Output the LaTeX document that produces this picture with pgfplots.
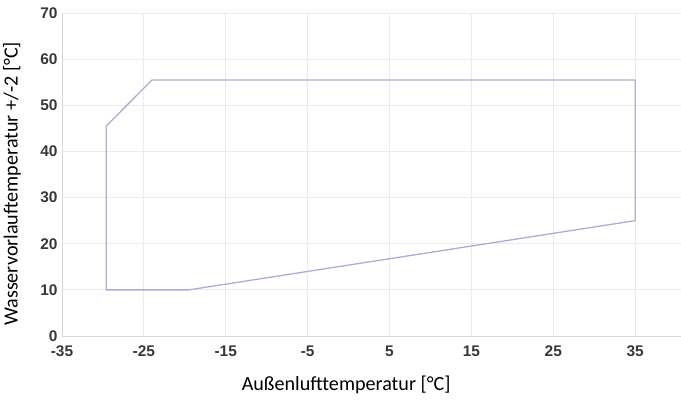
\documentclass[border=0pt]{standalone}
\usepackage{pgfplots}
\pgfplotsset{compat=1.18}
\usepackage{fontspec}
\setmainfont{Carlito}
\newfontfamily\tickfont{Liberation Sans}
\definecolor{gridc}{RGB}{234,234,240}
\definecolor{axc}{RGB}{215,215,218}
\definecolor{linec}{RGB}{172,172,212}
\definecolor{tickc}{RGB}{55,55,55}
\begin{document}
\begin{tikzpicture}
\useasboundingbox (-62bp,-65bp) rectangle (619bp,336bp);
\begin{axis}[
  at={(0,0)}, anchor=south west,
  scale only axis,
  width=619bp, height=323bp,
  xmin=-35, xmax=40.6, ymin=0, ymax=70,
  xtick={-35,-25,...,35}, ytick={0,10,...,70},
  axis x line=bottom, axis y line=left,
  axis line style={-, draw=axc, line width=0.8bp},
  major tick length=0pt,
  grid=major,
  major grid style={draw=gridc, line width=0.8bp},
  /pgf/number format/assume math mode=true,
  ticklabel style={font=\tickfont\bfseries\fontsize{15.5}{17}\selectfont, text=tickc},
  yticklabel style={xshift=-1bp},
  xticklabel style={yshift=-6bp},
  xlabel={Außenlufttemperatur [°C]},
  ylabel={Wasservorlauftemperatur +/-2 [°C]},
  every axis x label/.style={at={(axis description cs:0.459,-0.152)}, anchor=center, font=\fontsize{20.2}{22}\selectfont, text=black},
  every axis y label/.style={at={(axis description cs:-0.081,0.471)}, rotate=90, anchor=center, font=\fontsize{20.2}{22}\selectfont, text=black},
  clip=false,
]
\addplot[draw=linec, line width=1.3bp, line join=round] coordinates {
  (-29.6,10) (-19.5,10) (35,25) (35,55.5) (-24,55.5) (-29.6,45.5) (-29.6,10)
};
\end{axis}
\end{tikzpicture}
\end{document}
